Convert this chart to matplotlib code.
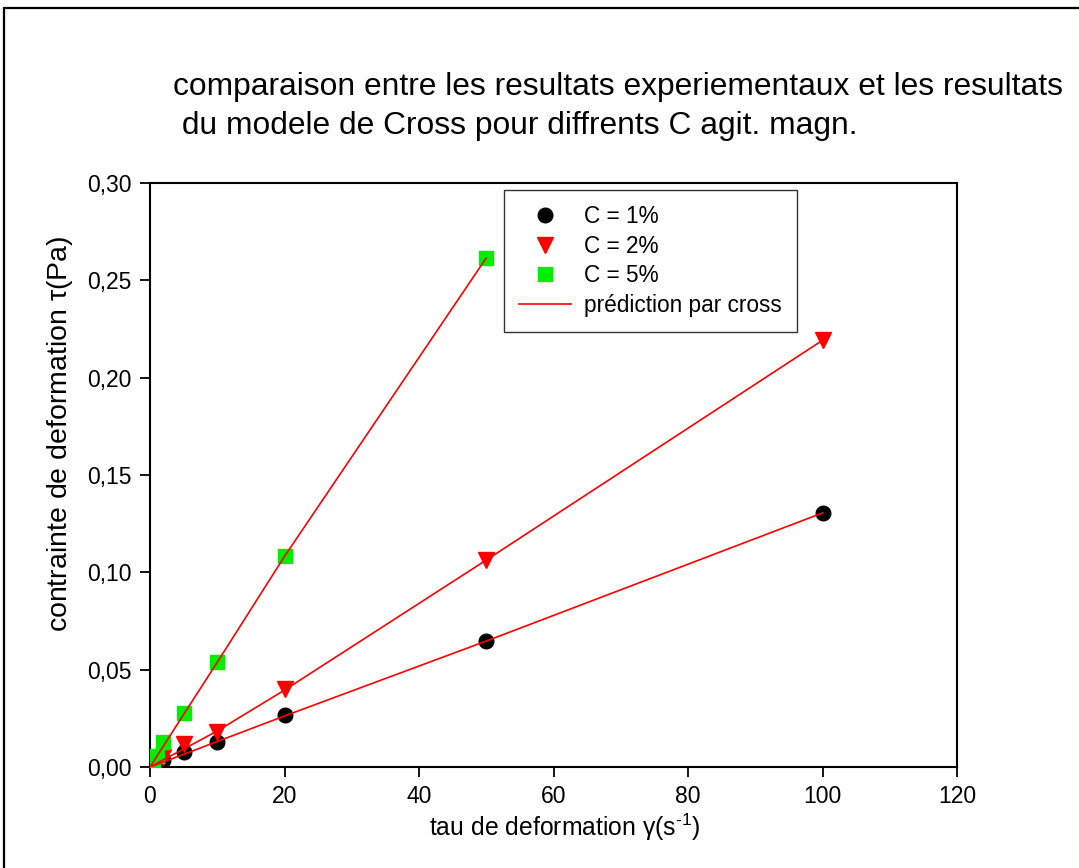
import matplotlib
matplotlib.use("Agg")
import matplotlib.pyplot as plt
from matplotlib.patches import Rectangle
from matplotlib.ticker import FuncFormatter, FixedLocator

plt.rcParams['font.family'] = ['Liberation Sans', 'DejaVu Sans']
plt.rcParams['mathtext.fontset'] = 'custom'
plt.rcParams['mathtext.rm'] = 'Liberation Sans'
plt.rcParams['mathtext.it'] = 'Liberation Sans'

# Shear rate (s^-1) and measured stress (Pa) for each concentration
shear_1 = [0.1, 0.5, 1, 2, 5, 10, 20, 50, 100]
stress_1 = [0.0002, 0.0007, 0.0014, 0.0036, 0.0077, 0.0130, 0.0265, 0.0647, 0.1305]

shear_2 = [0.1, 0.5, 1, 2, 5, 10, 20, 50, 100]
stress_2 = [0.0002, 0.0012, 0.0025, 0.0050, 0.0118, 0.0181, 0.0400, 0.1063, 0.2195]

shear_5 = [0.1, 0.5, 1, 2, 5, 10, 20, 50]
stress_5 = [0.0006, 0.0028, 0.0055, 0.0130, 0.0277, 0.0541, 0.1082, 0.2615]

# Cross model predictions
pred_x_1 = [0, 1, 2, 5, 10, 20, 50, 100]
pred_y_1 = [0, 0.0013, 0.0026, 0.0065, 0.0131, 0.0262, 0.0647, 0.1305]
pred_x_2 = [0, 1, 2, 5, 10, 20, 50, 100]
pred_y_2 = [0, 0.0019, 0.0038, 0.0092, 0.0185, 0.0395, 0.1063, 0.2192]
pred_x_5 = [0, 1, 2, 5, 10, 20, 50]
pred_y_5 = [0, 0.0054, 0.0108, 0.0270, 0.0538, 0.1082, 0.2615]

x_ticks = [0, 20, 40, 60, 80, 100, 120]
y_ticks = [0.00, 0.05, 0.10, 0.15, 0.20, 0.25, 0.30]

fig = plt.figure(figsize=(10.79, 8.68), dpi=100)
ax = fig.add_axes([150 / 1079, 101 / 868, 807 / 1079, 584 / 868])

ax.plot(shear_1, stress_1, linestyle='none', marker='o', color='black',
        markersize=10.5, label='C = 1%', zorder=3)
ax.plot(shear_2, stress_2, linestyle='none', marker='v', color='red',
        markersize=11, label='C = 2%', zorder=4)
ax.plot(shear_5, stress_5, linestyle='none', marker='s', color='#00ee00',
        markersize=10, label='C = 5%', zorder=5)

ax.plot(pred_x_1, pred_y_1, color='red', linewidth=1.2, zorder=6,
        label='prédiction par cross')
ax.plot(pred_x_2, pred_y_2, color='red', linewidth=1.2, zorder=6)
ax.plot(pred_x_5, pred_y_5, color='red', linewidth=1.2, zorder=6)

ax.set_xlim(0, 120)
ax.set_ylim(0, 0.30)
ax.xaxis.set_major_locator(FixedLocator(x_ticks))
ax.yaxis.set_major_locator(FixedLocator(y_ticks))
ax.yaxis.set_major_formatter(FuncFormatter(lambda v, p: f"{v:.2f}".replace('.', ',')))
ax.xaxis.set_major_formatter(FuncFormatter(lambda v, p: f"{v:.0f}"))
ax.tick_params(direction='out', length=7, width=1.3, labelsize=16.5, pad=6)
for s in ax.spines.values():
    s.set_linewidth(1.5)

ax.set_xlabel(r'tau de deformation $\gamma$(s$^{\text{-1}}$)', fontsize=17.8)
ax.xaxis.set_label_coords(0.514, -0.076)
ax.set_ylabel(r'contrainte de deformation $\tau$(Pa)', fontsize=20.5)
ax.yaxis.set_label_coords(-0.093, 0.57)

leg = ax.legend(loc='upper left', bbox_to_anchor=(354 / 807, 1 - 7 / 584),
                fontsize=16.3, frameon=True, fancybox=False, edgecolor='black',
                handlelength=2.3, handletextpad=0.6, borderpad=0.65,
                labelspacing=0.3, borderaxespad=0, numpoints=1)
leg.get_frame().set_linewidth(1.0)

fig.text(173 / 1079, 1 - 87 / 868,
         'comparaison entre les resultats experiementaux et les resultats',
         fontsize=22.9, ha='left', va='center')
fig.text(173 / 1079, 1 - 126 / 868,
         ' du modele de Cross pour diffrents C agit. magn.',
         fontsize=22.9, ha='left', va='center')

border = Rectangle((4 / 1079, -0.1), 1.2, 1 - 8 / 868 + 0.1,
                   transform=fig.transFigure, fill=False,
                   edgecolor='black', linewidth=1.6, clip_on=False)
fig.patches.append(border)

fig.savefig('out.png', dpi=100)
